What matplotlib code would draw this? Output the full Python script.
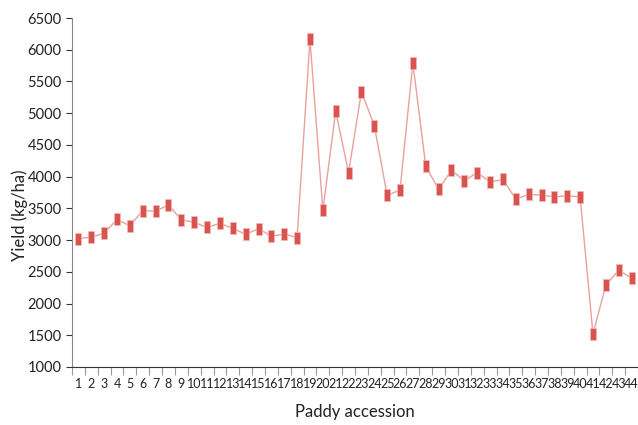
import numpy as np
import matplotlib.pyplot as plt
from matplotlib.ticker import FixedLocator, NullFormatter

plt.rcParams['font.family'] = ['Lato', 'DejaVu Sans']

# Paddy accession numbers and yield (kg/ha)
accessions = list(range(1, 45))
yields = [3025, 3045, 3110, 3325, 3225, 3465, 3455, 3555, 3320, 3280,
          3200, 3265, 3185, 3090, 3180, 3060, 3095, 3040, 6165, 3470,
          5030, 4065, 5340, 4805, 3705, 3790, 5790, 4165, 3800, 4100,
          3935, 4065, 3915, 3955, 3645, 3720, 3710, 3680, 3700, 3680,
          1520, 2290, 2525, 2400]
yticks = list(range(1000, 7000, 500))

red = '#d9534f'
box = [(-0.5, -1), (0.5, -1), (0.5, 1), (-0.5, 1), (-0.5, -1)]

fig = plt.figure(figsize=(6.38, 4.25), dpi=100)
ax = fig.add_axes([72 / 638, 1 - 367 / 425, 566 / 638, (367 - 18) / 425])

ax.plot(accessions, yields, color=red, alpha=0.55, lw=1, zorder=2)
ax.plot(accessions, yields, ls='none', marker=box, markersize=9,
        markerfacecolor=red, markeredgecolor='#f2b8b6', markeredgewidth=0.5, zorder=3)

ax.set_xlim(0.5, 44.5)
ax.set_ylim(1000, 6500)
ax.set_yticks(yticks)

# ticks at the band edges, labels at the band centres
ax.xaxis.set_major_locator(FixedLocator(np.arange(0.5, 45, 1)))
ax.xaxis.set_major_formatter(NullFormatter())
ax.xaxis.set_minor_locator(FixedLocator(accessions))
ax.set_xticklabels([str(a) for a in accessions], minor=True)
ax.tick_params(axis='x', which='major', length=6, color='#999999')
ax.tick_params(axis='x', which='minor', length=0, labelsize=9, pad=8, labelcolor='#222222')
ax.tick_params(axis='y', length=4, color='#333333', labelsize=10.5, labelcolor='#222222')

for s in ['top', 'right']:
    ax.spines[s].set_visible(False)
ax.spines['left'].set_color('#888888')
ax.spines['bottom'].set_color('#333333')

ax.set_xlabel('Paddy accession', fontsize=12, color='#222222')
ax.set_ylabel('Yield (kg/ha)', fontsize=12, color='#222222')
ax.xaxis.set_label_coords(0.5, -37 / 349, transform=ax.transAxes)
ax.yaxis.set_label_coords(-44 / 566, (367 - 215) / 349, transform=ax.transAxes)

plt.savefig('out.png')
